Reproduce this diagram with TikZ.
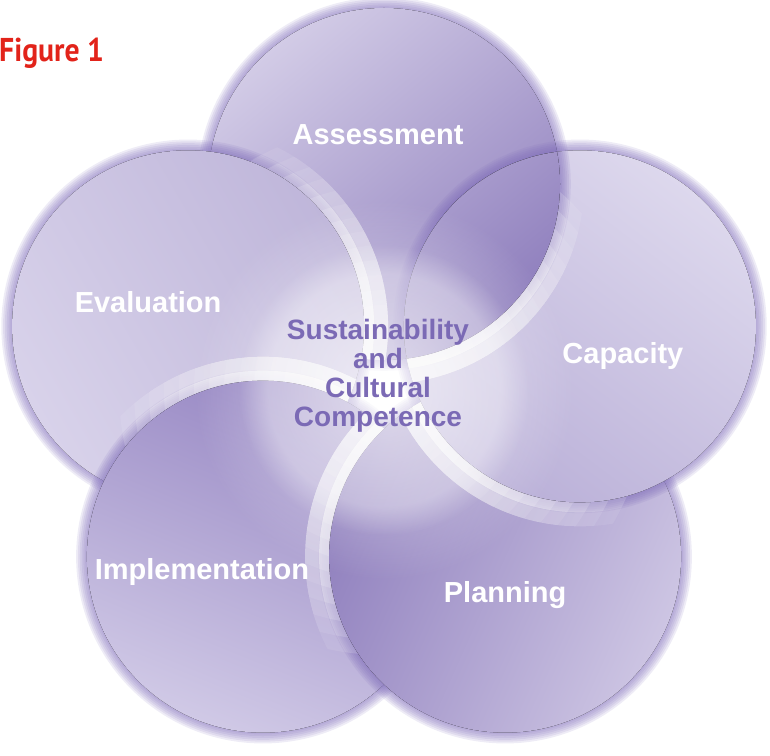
\documentclass[tikz,border=0pt]{standalone}
\usepackage{fontspec}
\setmainfont{Liberation Sans}
\newfontfamily\figfont{PT Sans}
\usepackage{tikz}
\usetikzlibrary{calc}
\usetikzlibrary{fadings}
\definecolor{halo-purple}{HTML}{7F6CBA}
\definecolor{core-purple}{HTML}{7B6AB5}
\definecolor{fig-red}{HTML}{E2231A}
\definecolor{assess-dark}{HTML}{9080BE}
\definecolor{assess-light}{HTML}{D2CBE6}
\definecolor{capac-dark}{HTML}{BAB0D8}
\definecolor{capac-light}{HTML}{DDD8ED}
\definecolor{plan-dark}{HTML}{9080BE}
\definecolor{plan-light}{HTML}{CDC5E3}
\definecolor{impl-dark}{HTML}{9686C3}
\definecolor{impl-light}{HTML}{D0C9E6}
\definecolor{eval-dark}{HTML}{BFB6DA}
\definecolor{eval-light}{HTML}{D8D2EA}

\tikzfading[name=glow fade, inner color=transparent!0, outer color=transparent!100]

\tikzset{
  petal label/.style={text=white, anchor=base, font=\fontsize{29}{29}\selectfont\bfseries},
  core text/.style={text=core-purple, align=center, font=\fontsize{28}{29}\selectfont\bfseries},
}

% radius of one petal
\newcommand{\petalr}{176}
% #1 centre, #2 petal below it, #3 dark, #4 light, #5 shading angle
\newcommand{\drawpetal}[5]{%
  % soft shadow
  \foreach \k in {1,...,6}
    \fill[halo-purple, opacity=0.13] (#1) circle (\petalr+1.8*\k);
  % white rim on the petal below, stronger towards the middle
  \foreach \rr in {40,55,...,265} {
    \begin{scope}
      \clip (#2) circle (\petalr);
      \clip (c0) circle (\rr);
      \draw[white, line width=26, opacity=0.085] (#1) circle (\petalr+11);
      \draw[white, line width=12, opacity=0.085] (#1) circle (\petalr+4);
    \end{scope}
  }
  % body
  \fill[top color=#3, bottom color=#4, shading angle=#5] (#1) circle (\petalr);
}

\begin{document}
\begin{tikzpicture}[x=1pt, y=1pt]
% Frame
\useasboundingbox (0, 0) rectangle (770, 755);

% ---------------------------------------------------
% Centres of the five petals
\coordinate[] (c0) at (384, 365);
\coordinate[] (cA) at ($ (c0) + (90:206) $);
\coordinate[] (cC) at ($ (c0) + (18:206) $);
\coordinate[] (cP) at ($ (c0) + (-54:206) $);
\coordinate[] (cI) at ($ (c0) + (-126:206) $);
\coordinate[] (cE) at ($ (c0) + (162:206) $);

% Petals, each one lying over the next clockwise
\drawpetal{cA}{cC}{assess-dark}{assess-light}{-140}
\drawpetal{cE}{cA}{eval-dark}{eval-light}{-60}
\drawpetal{cI}{cE}{impl-dark}{impl-light}{-22}
\drawpetal{cP}{cI}{plan-dark}{plan-light}{66}
\drawpetal{cC}{cP}{capac-dark}{capac-light}{143}
% Assessment again, over Capacity
\begin{scope}
  \clip (cC) circle (\petalr);
  \drawpetal{cA}{cC}{assess-dark}{assess-light}{-140}
\end{scope}

% Glow in the middle
\fill[white, opacity=0.3, path fading=circle with fuzzy edge 20 percent] (c0) circle (145);
\fill[white, opacity=0.6, path fading=glow fade] (c0) circle (190);

% ---------------------------------------------------
% Labels
\node[core text] (core) at ($ (c0) + (-6, 14) $)
     {Sustainability\\and\\Cultural\\Competence};
\node[petal label] (assess) at ($ (cA) + (-6, 39) $) {Assessment};
\node[petal label] (capac) at ($ (cC) + (43, -37) $) {Capacity};
\node[petal label] (plan) at ($ (cP) + (0, -46) $) {Planning};
\node[petal label] (impl) at ($ (cI) + (-61, -23) $) {Implementation};
\node[petal label] (eval) at ($ (cE) + (-40, 14) $) {Evaluation};

% Caption
\node[anchor=base west, text=fig-red, xscale=0.9,
      font=\fontsize{33}{33}\selectfont\figfont\bfseries] (fig) at (-4, 693) {Figure 1};
\end{tikzpicture}
\end{document}
